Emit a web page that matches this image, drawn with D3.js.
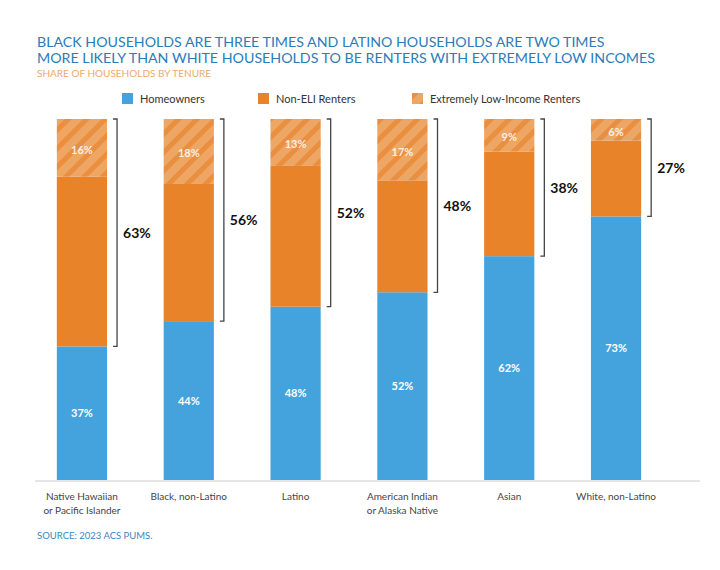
<!DOCTYPE html>
<html>
<head>
<meta charset="utf-8">
<script src="https://cdn.jsdelivr.net/npm/d3@7"></script>
<style>
  body { margin: 0; background: #fff; }
  svg text { font-family: Lato, "Open Sans", sans-serif; }
</style>
</head>
<body>
<svg id="chart" width="720" height="570"></svg>
<script>
const groups = ["Native Hawaiian|or Pacific Islander", "Black, non-Latino", "Latino", "American Indian|or Alaska Native", "Asian", "White, non-Latino"]
const homeowners = [37, 44, 48, 52, 62, 73]
const nonEli = [47, 38, 39, 31, 29, 21]
const eli = [16, 18, 13, 17, 9, 6]
const renters = [63, 56, 52, 48, 38, 27]

const blue = "#44a3dd"
const orange = "#e8832a"

const svg = d3.select("#chart")

// hatch pattern for ELI renters
const defs = svg.append("defs")
const pat = defs.append("pattern")
  .attr("id", "hatch")
  .attr("patternUnits", "userSpaceOnUse")
  .attr("width", 13)
  .attr("height", 13)
  .attr("patternTransform", "rotate(45)")
pat.append("rect").attr("width", 13).attr("height", 13).attr("fill", "#eea665")
pat.append("rect").attr("x", 0).attr("width", 5).attr("height", 13).attr("fill", "#e98f3f")

// titles
svg.append("text").attr("x", 37).attr("y", 47)
  .attr("fill", "#2b7cb9").style("font-size", "14.2px")
  .text("BLACK HOUSEHOLDS ARE THREE TIMES AND LATINO HOUSEHOLDS ARE TWO TIMES")
svg.append("text").attr("x", 37).attr("y", 63)
  .attr("fill", "#2b7cb9").style("font-size", "14.2px")
  .attr("textLength", 618).attr("lengthAdjust", "spacingAndGlyphs")
  .text("MORE LIKELY THAN WHITE HOUSEHOLDS TO BE RENTERS WITH EXTREMELY LOW INCOMES")
svg.append("text").attr("x", 37).attr("y", 77)
  .attr("fill", "#f2a868").style("font-size", "10px")
  .text("SHARE OF HOUSEHOLDS BY TENURE")

// legend
const legend = [
  { label: "Homeowners", fill: blue, x: 122 },
  { label: "Non-ELI Renters", fill: orange, x: 258 },
  { label: "Extremely Low-Income Renters", fill: "url(#hatch)", x: 412 }
]
const lg = svg.append("g").selectAll("g").data(legend).join("g")
  .attr("transform", d => `translate(${d.x},93)`)
lg.append("rect").attr("width", 11).attr("height", 11).attr("fill", d => d.fill)
lg.append("text").attr("x", 18).attr("y", 10)
  .attr("fill", "#333").style("font-size", "11px")
  .text(d => d.label)

// scales
const x = d3.scaleBand().domain(groups).range([28, 670]).paddingInner(0.53).paddingOuter(0.27)
const y = d3.scaleLinear().domain([0, 100]).range([480, 119])

const data = groups.map((g, i) => ({ g, h: homeowners[i], n: nonEli[i], e: eli[i], r: renters[i] }))

const bars = svg.append("g").selectAll("g").data(data).join("g")

bars.append("rect")
  .attr("x", d => x(d.g)).attr("width", x.bandwidth())
  .attr("y", d => y(d.h)).attr("height", d => y(0) - y(d.h))
  .attr("fill", blue)
bars.append("rect")
  .attr("x", d => x(d.g)).attr("width", x.bandwidth())
  .attr("y", d => y(d.h + d.n)).attr("height", d => y(d.h) - y(d.h + d.n))
  .attr("fill", orange)
bars.append("rect")
  .attr("x", d => x(d.g)).attr("width", x.bandwidth())
  .attr("y", d => y(100)).attr("height", d => y(d.h + d.n) - y(100))
  .attr("fill", "url(#hatch)")

bars.append("text")
  .attr("x", d => x(d.g) + x.bandwidth() / 2)
  .attr("y", d => (y(0) + y(d.h)) / 2 + 4)
  .attr("text-anchor", "middle").attr("fill", "#fff")
  .style("font-size", "11px").style("font-weight", "bold")
  .text(d => d.h + "%")
bars.append("text")
  .attr("x", d => x(d.g) + x.bandwidth() / 2)
  .attr("y", d => (y(100) + y(d.h + d.n)) / 2 + 6)
  .attr("text-anchor", "middle").attr("fill", "#fff").attr("fill-opacity", 0.85)
  .style("font-size", "11px").style("font-weight", "bold")
  .text(d => d.e + "%")

// brackets for total renters
const bx = d => x(d.g) + x.bandwidth() + 10
bars.append("path")
  .attr("d", d => `M${bx(d) - 4},${y(100)}H${bx(d)}V${y(d.h)}H${bx(d) - 4}`)
  .attr("fill", "none").attr("stroke", "#444").attr("stroke-width", 1.3)
bars.append("text")
  .attr("x", d => bx(d) + 6)
  .attr("y", d => (y(100) + y(d.h)) / 2 + 5)
  .attr("fill", "#111").style("font-size", "14px").style("font-weight", "bold")
  .text(d => d.r + "%")

// baseline
svg.append("line").attr("x1", 35).attr("x2", 700).attr("y1", 481).attr("y2", 481)
  .attr("stroke", "#ddd").attr("stroke-width", 1.5)

// category labels
const xl = svg.append("g").selectAll("text").data(groups).join("text")
  .attr("x", d => x(d) + x.bandwidth() / 2)
  .attr("y", 500)
  .attr("text-anchor", "middle").attr("fill", "#444").style("font-size", "10px")
xl.selectAll("tspan").data(d => d.split("|")).join("tspan")
  .attr("x", function () { return d3.select(this.parentNode).attr("x") })
  .attr("dy", (d, i) => i ? 14 : 0)
  .text(d => d)

svg.append("text").attr("x", 37).attr("y", 539)
  .attr("fill", "#3b86c0").style("font-size", "9.5px")
  .text("SOURCE: 2023 ACS PUMS.")
</script>
</body>
</html>
